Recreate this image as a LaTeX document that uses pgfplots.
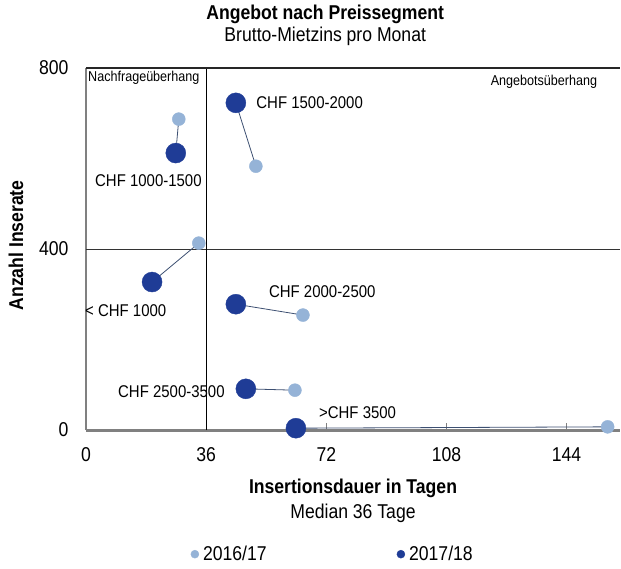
\documentclass[border=0pt]{standalone}
\usepackage{pgfplots}
\pgfplotsset{compat=1.18}
\usepackage{fontspec}
\setmainfont{Liberation Sans}[FakeStretch=0.88]
\definecolor{light}{HTML}{95B3D7}
\definecolor{dark}{HTML}{1F3C96}
\definecolor{conn}{HTML}{3D5072}
\newcommand{\fb}{\fontsize{20}{25}\selectfont}
\newcommand{\fs}{\fontsize{17}{21}\selectfont}
\newcommand{\fss}{\fontsize{14.3}{17}\selectfont}
\begin{document}
\begin{tikzpicture}
\useasboundingbox (-86pt,-138pt) rectangle (535pt,430pt);
\begin{axis}[
  scale only axis, width=534pt, height=362pt,
  xmin=0, xmax=160, ymin=0, ymax=800,
  clip=false,
  separate axis lines,
  axis x line*=bottom, axis y line*=left,
  x axis line style={draw=gray, line width=3pt},
  y axis line style={draw=gray, line width=1.8pt},
  every outer x axis line/.append style={draw=gray, line width=3pt},
  every outer y axis line/.append style={draw=gray, line width=1.8pt},
  xtick={0,36,72,108,144}, ytick={0,400,800},
  tick align=inside, xtick pos=bottom,
  major tick length=7pt,
  xtick style={draw=gray, line width=0.8pt},
  ytick style={draw=none},
  tick label style={font=\fb},
  /pgf/number format/assume math mode=true,
  xticklabel style={yshift=-14pt},
  yticklabel style={xshift=-14pt},
  xlabel={\textbf{Insertionsdauer in Tagen}\\Median 36 Tage},
  xlabel style={at={(axis description cs:0.5,-0.195)}, anchor=center, align=center, font=\fb},
  ylabel={\textbf{Anzahl Inserate}},
  ylabel style={at={(axis description cs:-0.131,0.51)}, anchor=center, font=\fb},
  title={\textbf{Angebot nach Preissegment}\\Brutto-Mietzins pro Monat},
  title style={at={(axis description cs:0.448,1.102)}, anchor=center, align=center, font=\fontsize{20}{22}\selectfont},
  legend columns=2,
  legend style={at={(axis description cs:0.462,-0.343)}, anchor=center, draw=none, font=\fb,
    /tikz/every even column/.append style={column sep=128pt},
    /tikz/every odd column/.append style={column sep=2pt}},
]
% reference lines
\addplot[black!80, line width=1pt, forget plot] coordinates {(0,400) (160,400)};
\addplot[black, line width=1.1pt, forget plot] coordinates {(36,0) (36,800)};
\draw[black!85, line width=1.3pt] (rel axis cs:0,1) -- (rel axis cs:1,1);
% series
\addplot[only marks, mark=*, mark size=6.5pt, color=light, mark options={draw=none, fill=light},
  legend image code/.code={\fill[light] (0pt,0pt) circle (4pt);}]
  coordinates {(33.8,413) (27.8,687) (50.9,583) (65,254) (62.6,88) (156.3,7)};
\addlegendentry{2016/17}
\addplot[only marks, mark=*, mark size=10pt, color=dark, mark options={draw=none, fill=dark},
  legend image code/.code={\fill[dark] (0pt,0pt) circle (4pt);}]
  coordinates {(19.8,327) (26.9,612) (44.9,723) (44.9,278) (47.9,91) (62.9,4)};
\addlegendentry{2017/18}
% connectors
\addplot[conn, line width=0.8pt, forget plot] coordinates {(33.8,413) (19.8,327)};
\addplot[conn, line width=0.8pt, forget plot] coordinates {(27.8,687) (26.9,612)};
\addplot[conn, line width=0.8pt, forget plot] coordinates {(50.9,583) (44.9,723)};
\addplot[conn, line width=0.8pt, forget plot] coordinates {(65,254) (44.9,278)};
\addplot[conn, line width=0.8pt, forget plot] coordinates {(62.6,88) (47.9,91)};
\addplot[conn, line width=0.8pt, forget plot] coordinates {(156.3,7) (62.9,4)};
% labels
\node[font=\fs, anchor=west, inner sep=0pt] at (axis cs:51,723) {CHF 1500-2000};
\node[font=\fs, anchor=center, inner sep=0pt] at (axis cs:18.7,550) {CHF 1000-1500};
\node[font=\fs, anchor=west, inner sep=0pt] at (axis cs:-0.3,263) {< CHF 1000};
\node[font=\fs, anchor=west, inner sep=0pt] at (axis cs:54.8,305) {CHF 2000-2500};
\node[font=\fs, anchor=east, inner sep=0pt] at (axis cs:41.6,84) {CHF 2500-3500};
\node[font=\fs, anchor=west, inner sep=0pt] at (axis cs:69.8,38) {>CHF 3500};
\node[font=\fss, anchor=west, inner sep=0pt] at (axis cs:0.6,778) {Nachfrageüberhang};
\node[font=\fss, anchor=east, inner sep=0pt] at (axis cs:153.2,769) {Angebotsüberhang};
\end{axis}
\end{tikzpicture}
\end{document}
